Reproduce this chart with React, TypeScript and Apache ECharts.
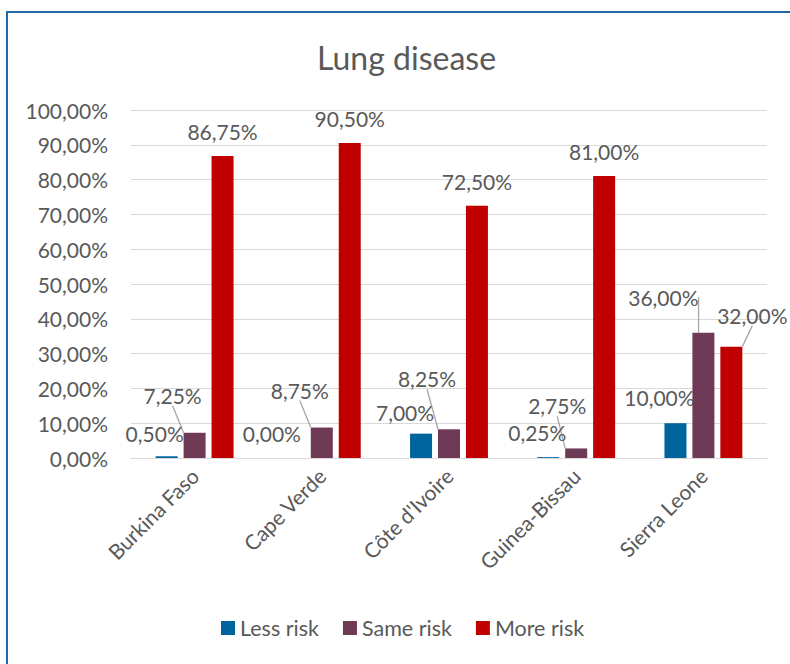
import React, { useEffect, useRef } from "react";
import * as echarts from "echarts";

const categories = ["Burkina Faso", "Cape Verde", "Côte d'Ivoire", "Guinea-Bissau", "Sierra Leone"];
const lessRisk = [0.5, 0.0, 7.0, 0.25, 10.0];
const sameRisk = [7.25, 8.75, 8.25, 2.75, 36.0];
const moreRisk = [86.75, 90.5, 72.5, 81.0, 32.0];
const yTicks = [0, 10, 20, 30, 40, 50, 60, 70, 80, 90, 100];
const seriesNames = ["Less risk", "Same risk", "More risk"];

// label displacement (dx, dy) relative to the default "top" label position
const labelShift: number[][][] = [
  [[-12, 2], [-22, 0], [-16, 3], [-11, 0], [-16, -1]],
  [[-22, -13], [-22, -13], [-22, -26], [-19, -18], [-40, -11]],
  [[0, 0], [0, 0], [0, 0], [0, 0], [21, -7]],
];
const leaderLine: boolean[][] = [
  [false, false, false, false, false],
  [true, true, true, true, true],
  [false, false, false, false, true],
];

const colors = ["#00659E", "#6E3A56", "#C00000"];
const textColor = "#595959";
const font = "Lato, 'Open Sans', sans-serif";

const fmt = (v: number) => v.toFixed(2).replace(".", ",") + "%";

export default function App() {
  const ref = useRef<HTMLDivElement>(null);
  useEffect(() => {
    if (!ref.current) return;
    const chart = echarts.init(ref.current, undefined, { renderer: "svg" });
    const values = [lessRisk, sameRisk, moreRisk];
    chart.setOption({
      animation: false,
      backgroundColor: "#ffffff",
      textStyle: { fontFamily: font },
      title: {
        text: "Lung disease",
        left: 312,
        top: 36,
        textStyle: { fontFamily: font, fontSize: 32, fontWeight: "normal", color: textColor },
      },
      graphic: [
        {
          type: "rect",
          shape: { x: 7, y: 12, width: 800, height: 700 },
          style: { fill: "none", stroke: "#2168A6", lineWidth: 2 },
          silent: true,
        },
      ],
      legend: {
        bottom: 20,
        left: 216,
        itemWidth: 14,
        itemHeight: 14,
        itemGap: 24,
        icon: "rect",
        textStyle: { fontFamily: font, fontSize: 21.5, color: textColor },
        data: seriesNames,
      },
      grid: { left: 131, right: 23, top: 110, bottom: 206, containLabel: false },
      xAxis: {
        type: "category",
        data: categories,
        axisLine: { lineStyle: { color: "#D9D9D9", width: 1 } },
        axisTick: { show: false },
        axisLabel: {
          rotate: 45,
          margin: 14,
          fontSize: 21,
          color: textColor,
          fontFamily: font,
          interval: 0,
        },
      },
      yAxis: {
        type: "value",
        min: yTicks[0],
        max: yTicks[yTicks.length - 1],
        interval: 10,
        axisLine: { show: false },
        axisTick: { show: false },
        splitLine: { lineStyle: { color: "#D9D9D9", width: 1 } },
        axisLabel: {
          margin: 23,
          fontSize: 21,
          color: textColor,
          fontFamily: font,
          formatter: (v: number) => fmt(v),
        },
      },
      series: values.map((arr, si) => ({
        name: seriesNames[si],
        type: "bar",
        barWidth: 22,
        barGap: "27%",
        itemStyle: { color: colors[si] },
        data: arr.map((v, di) => ({
          value: v,
          labelLine: { show: leaderLine[si][di] },
        })),
        label: {
          show: true,
          position: "top",
          distance: 14,
          fontSize: 21,
          color: textColor,
          fontFamily: font,
          formatter: (p: any) => fmt(p.value),
        },
        labelLine: {
          show: si !== 0,
          lineStyle: { color: "#A6A6A6", width: 1.3 },
        },
        labelLayout: (p: any) => {
          const s = labelShift[p.seriesIndex][p.dataIndex];
          return { dx: s[0], dy: s[1] };
        },
      })),
    });
    return () => chart.dispose();
  }, []);
  return (
    <div
      ref={ref}
      style={{ position: "absolute", left: 0, top: 0, width: 790, height: 664 }}
    />
  );
}
